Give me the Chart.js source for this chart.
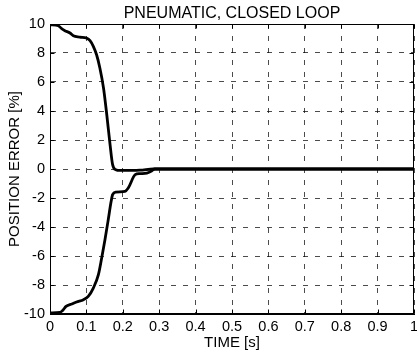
<!DOCTYPE html>
<html>
<head>
<meta charset="utf-8">
<script src="https://cdn.jsdelivr.net/npm/chart.js@4"></script>
<style>
  html, body { margin: 0; padding: 0; background: #fff; }
  #wrap { width: 417px; height: 355px; }
</style>
</head>
<body>
<div id="wrap"><canvas id="chart" width="417" height="355"></canvas></div>
<script>
// Upper response (starts at +10 %)
const timeUpper = [0, 0.023, 0.032, 0.041, 0.055, 0.064, 0.082, 0.1, 0.11, 0.119, 0.128, 0.137, 0.147, 0.156, 0.165, 0.172, 0.181, 0.192, 0.247, 0.284, 1];
const errorUpper = [9.95, 9.88, 9.68, 9.54, 9.38, 9.19, 9.1, 9.03, 8.85, 8.46, 7.88, 6.97, 5.59, 3.74, 1.68, 0.3, -0.05, -0.1, -0.08, 0, 0];

// Lower response (starts at -10 %)
const timeLower = [0, 0.027, 0.035, 0.044, 0.06, 0.073, 0.092, 0.105, 0.119, 0.133, 0.142, 0.151, 0.16, 0.168, 0.172, 0.181, 0.206, 0.215, 0.234, 0.247, 0.266, 0.28, 0.288, 1];
const errorLower = [-9.93, -9.89, -9.75, -9.48, -9.31, -9.17, -9.01, -8.79, -8.21, -7.29, -6.14, -4.88, -3.5, -2.23, -1.77, -1.59, -1.54, -1.31, -0.39, -0.32, -0.28, -0.12, 0, 0];

// Tick labels
const xTickLabels = ['0', '0.1', '0.2', '0.3', '0.4', '0.5', '0.6', '0.7', '0.8', '0.9', '1'];
const yTickLabels = ['-10', '-8', '-6', '-4', '-2', '0', '2', '4', '6', '8', '10'];

const chartTitle = 'PNEUMATIC, CLOSED LOOP';

const FONT = "'Liberation Sans', Arial, sans-serif";

const toPoints = (xs, ys) => xs.map((x, i) => ({x: x, y: ys[i]}));

// Box around the plot, inward tick marks on all four sides, title centred over the plot
const boxPlugin = {
    id: 'box',
    afterDraw(chart) {
        const {ctx, chartArea: a, scales: {x, y}} = chart;
        const L = Math.round(a.left) + 0.5, R = Math.round(a.right) - 0.5;
        const T = Math.round(a.top) + 0.5, B = Math.round(a.bottom) - 0.5;
        ctx.save();
        ctx.strokeStyle = '#000';
        ctx.lineWidth = 1;
        ctx.setLineDash([]);
        ctx.strokeRect(L, T, R - L, B - T);
        ctx.beginPath();
        x.ticks.forEach(t => {
            const px = Math.round(x.getPixelForValue(t.value)) + 0.5;
            ctx.moveTo(px, B); ctx.lineTo(px, B - 4);
            ctx.moveTo(px, T); ctx.lineTo(px, T + 4);
        });
        y.ticks.forEach(t => {
            const py = Math.round(y.getPixelForValue(t.value)) + 0.5;
            ctx.moveTo(L, py); ctx.lineTo(L + 4, py);
            ctx.moveTo(R, py); ctx.lineTo(R - 4, py);
        });
        ctx.stroke();

        ctx.fillStyle = '#000';
        ctx.font = '16px ' + FONT;
        ctx.textAlign = 'center';
        ctx.textBaseline = 'middle';
        ctx.fillText(chartTitle, (a.left + a.right) / 2, 13.5);
        ctx.restore();
    }
};

new Chart(document.getElementById('chart'), {
    type: 'line',
    data: {
        datasets: [
            { data: toPoints(timeUpper, errorUpper), borderColor: '#000', borderWidth: 2.8, pointRadius: 0, cubicInterpolationMode: 'monotone', fill: false },
            { data: toPoints(timeLower, errorLower), borderColor: '#000', borderWidth: 2.8, pointRadius: 0, cubicInterpolationMode: 'monotone', fill: false }
        ]
    },
    options: {
        responsive: false,
        devicePixelRatio: 1,
        animation: false,
        layout: { padding: { left: 0, right: 3, top: 24, bottom: 0 } },
        plugins: {
            legend: { display: false },
            tooltip: { enabled: false },
            title: { display: false }
        },
        scales: {
            x: {
                type: 'linear',
                min: 0,
                max: 1,
                afterFit: s => { s.height = 41; s.paddingLeft = 0; s.paddingRight = 0; },
                afterBuildTicks: s => { s.ticks = xTickLabels.map((_, i) => ({value: i / 10})); },
                ticks: {
                    color: '#000',
                    padding: 4,
                    maxRotation: 0,
                    autoSkip: false,
                    font: { family: FONT, size: 14.5 },
                    callback: (v, i) => xTickLabels[i]
                },
                grid: { color: 'rgba(0,0,0,0.7)', lineWidth: 1, drawTicks: false },
                border: { display: true, color: '#000', dash: [5, 7] },
                title: {
                    display: true,
                    text: 'TIME [s]',
                    color: '#000',
                    font: { family: FONT, size: 15 },
                    padding: { top: 0, bottom: 3 }
                }
            },
            y: {
                type: 'linear',
                min: -10,
                max: 10,
                afterFit: s => { s.width = 50; s.paddingTop = 0; s.paddingBottom = 0; },
                afterBuildTicks: s => { s.ticks = yTickLabels.map((_, i) => ({value: -10 + 2 * i})); },
                ticks: {
                    color: '#000',
                    padding: 5,
                    autoSkip: false,
                    font: { family: FONT, size: 14.5 },
                    callback: (v, i) => yTickLabels[i]
                },
                grid: { color: 'rgba(0,0,0,0.7)', lineWidth: 1, drawTicks: false },
                border: { display: true, color: '#000', dash: [5, 7] },
                title: {
                    display: true,
                    text: 'POSITION ERROR [%]',
                    color: '#000',
                    font: { family: FONT, size: 15 },
                    padding: { top: 6, bottom: 0 }
                }
            }
        }
    },
    plugins: [boxPlugin]
});
</script>
</body>
</html>
